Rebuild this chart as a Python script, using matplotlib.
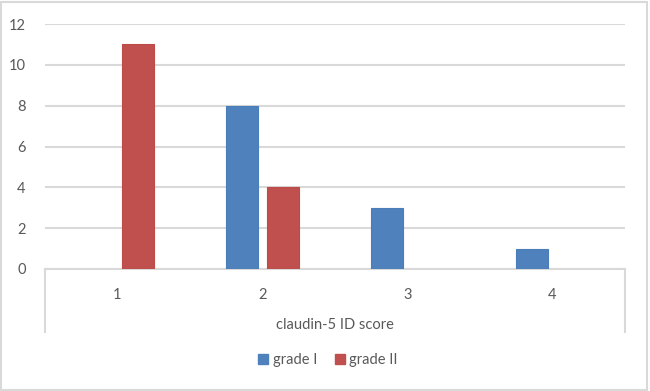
import numpy as np
from matplotlib import pyplot as plt
from matplotlib.patches import Rectangle, Patch

# category labels and counts per grade
scores = ['1', '2', '3', '4']
grade_1 = [0, 8, 3, 1]
grade_2 = [11, 4, 0, 0]
series_names = ['grade I', 'grade II']
colors = ['#4f81bd', '#c0504d']

plt.rcParams['font.family'] = ['Lato', 'DejaVu Sans']
text_grey = '#595959'
grid_grey = '#d9d9d9'

fig = plt.figure(figsize=(6.5, 3.91), dpi=100)
ax = fig.add_axes([45 / 650, 1 - 269 / 391, 580 / 650, 245 / 391])

x = np.arange(1, len(scores) + 1)
width = 0.22
off = 0.142
b1 = ax.bar(x - off, grade_1, width, color=colors[0], edgecolor='#4a7ebb',
            linewidth=0.8, zorder=3)
b2 = ax.bar(x + off, grade_2, width, color=colors[1], edgecolor='#be4b48',
            linewidth=0.8, zorder=3)
# Excel shows nothing for empty values
for bars, vals in ((b1, grade_1), (b2, grade_2)):
    for rect, v in zip(bars, vals):
        if v == 0:
            rect.set_visible(False)

ax.set_xlim(0.5, 4.5)
ax.set_ylim(0, 12)
ax.set_yticks(range(0, 13, 2))
ax.yaxis.grid(True, color=grid_grey, linewidth=1.5, zorder=0)
ax.set_axisbelow(True)
for s in ['top', 'right', 'left']:
    ax.spines[s].set_visible(False)
ax.spines['bottom'].set_color(grid_grey)
ax.spines['bottom'].set_linewidth(1.5)

ax.set_xticks(x)
ax.set_xticklabels(scores)
ax.tick_params(axis='x', length=0, pad=14, labelsize=10.5, labelcolor=text_grey)
ax.tick_params(axis='y', length=0, pad=14, labelsize=10.5, labelcolor=text_grey)
ax.set_xlabel('claudin-5 ID score', fontsize=10.5, color=text_grey, labelpad=11)

# box around the category axis, like a multi-level axis
depth = (332 - 269) / 245
for xe in (0, 1):
    ax.plot([xe, xe], [0, -depth], transform=ax.transAxes, color=grid_grey,
            linewidth=1.5, clip_on=False)

handles = [Patch(facecolor=c, edgecolor=c) for c in colors]
fig.legend(handles=handles, labels=series_names, loc='center',
           bbox_to_anchor=(328 / 650, 1 - 360 / 391), ncol=2, frameon=False,
           handlelength=0.7, handleheight=0.7, handletextpad=0.3,
           columnspacing=1.2, fontsize=10.5, labelcolor=text_grey)

fig.patches.append(Rectangle((0.002, 0.003), 0.994, 0.993, transform=fig.transFigure,
                             fill=False, edgecolor=grid_grey, linewidth=1.5))

fig.savefig('out.png', dpi=100)
